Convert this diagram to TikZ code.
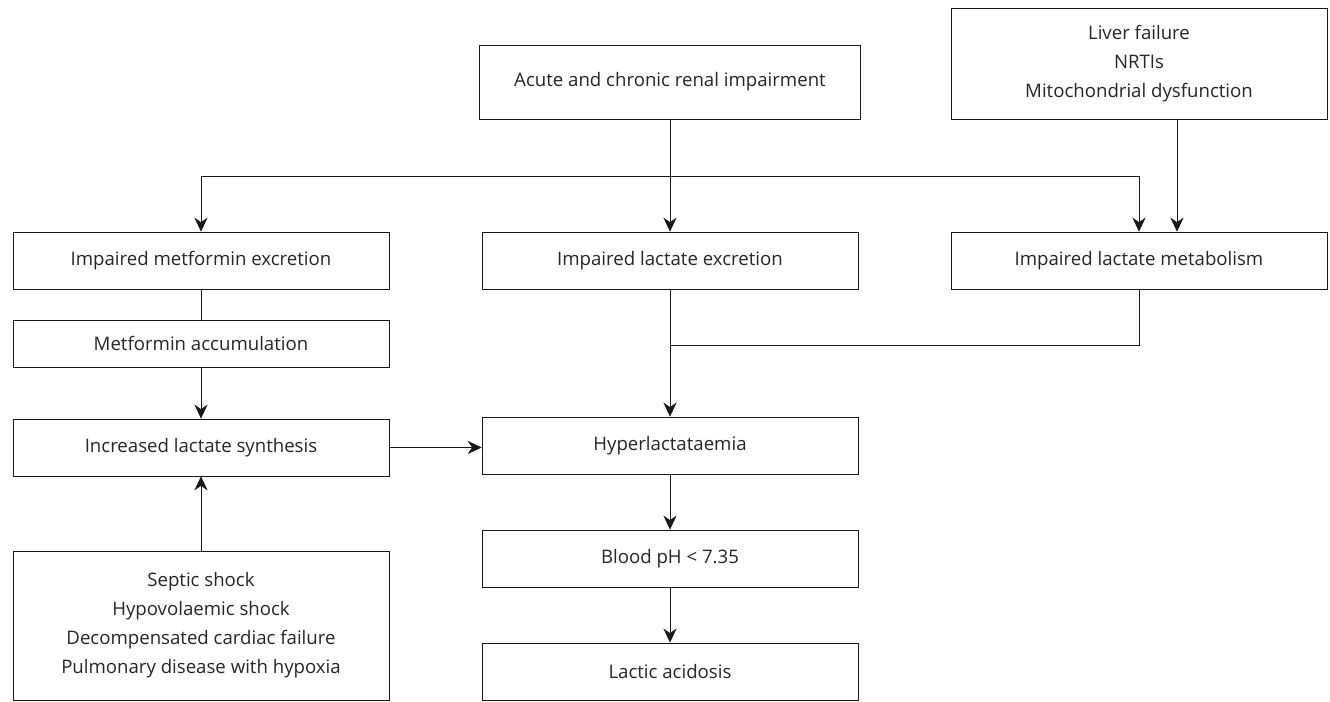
\documentclass[tikz,border=0pt]{standalone}
\usepackage{fontspec}
\setmainfont{Open Sans}
\usetikzlibrary{arrows.meta,positioning}
\tikzset{
    %Define standard arrow tip
    >={Stealth[length=8pt,width=7.5pt]},
    line width=1.15pt,
    cause/.style={
      rectangle,
      draw=black!90,
      minimum width=7.52cm,
      minimum height=1.14cm,
      text=black!85,
      align=center,
      inner sep=0pt,
      font=\fontsize{10.6}{16.5}\selectfont},
}

\begin{document}
\begin{tikzpicture}[x=0.02cm, y=-0.02cm, node distance=2.26cm, draw=black!90]
    \useasboundingbox (0,0) rectangle (1330,701);
    % top row
    \node (renal) [cause, minimum width=7.62cm, minimum height=1.48cm] at (670,82)
          {Acute and chronic renal impairment};
    \node (liver) [cause, minimum height=2.22cm] at (1139,63.5)
          {Liver failure\\NRTIs\\Mitochondrial dysfunction};
    % second row
    \node (metex) [cause] at (201,260.5)
          {Impaired metformin excretion};
    \node (lacex) [cause] at (670,260.5)
          {Impaired lactate excretion};
    \node (lacmet) [cause] at (1139,260.5)
          {Impaired lactate metabolism};
    % left column
    \node (metacc) [cause, minimum height=0.94cm] [below of=metex, node distance=1.66cm]
          {Metformin accumulation};
    \node (synth) [cause] [below of=metacc, node distance=2.08cm]
          {Increased lactate synthesis};
    \node (shock) [cause, minimum height=2.98cm] at (201,625.5)
          {Septic shock\\Hypovolaemic shock\\Decompensated cardiac failure\\Pulmonary disease with hypoxia};
    % middle column
    \node (hyper) [cause] [below of=lacex, node distance=3.7cm]
          {Hyperlactataemia};
    \node (ph) [cause] [below of=hyper]
          {Blood pH < 7.35};
    \node (lactic) [cause] [below of=ph]
          {Lactic acidosis};

    \coordinate (split) at (670,176);
    \coordinate (merge) at (670,345);
    \draw [->] (renal) -- (lacex);
    \draw [->] (split) -| (metex);
    \draw [->] (split) -| (lacmet);
    \draw [->] ([xshift=0.76cm]liver.south) -- ([xshift=0.76cm]lacmet.north);
    \draw (metex) -- (metacc);
    \draw [->] (metacc) -- (synth);
    \draw [->] (shock) -- (synth);
    \draw [->] (synth) -- (synth -| hyper.west);
    \draw (lacmet) |- (merge);
    \draw [->] (lacex) -- (hyper);
    \draw [->] (hyper) -- (ph);
    \draw [->] (ph) -- (lactic);
\end{tikzpicture}
\end{document}
